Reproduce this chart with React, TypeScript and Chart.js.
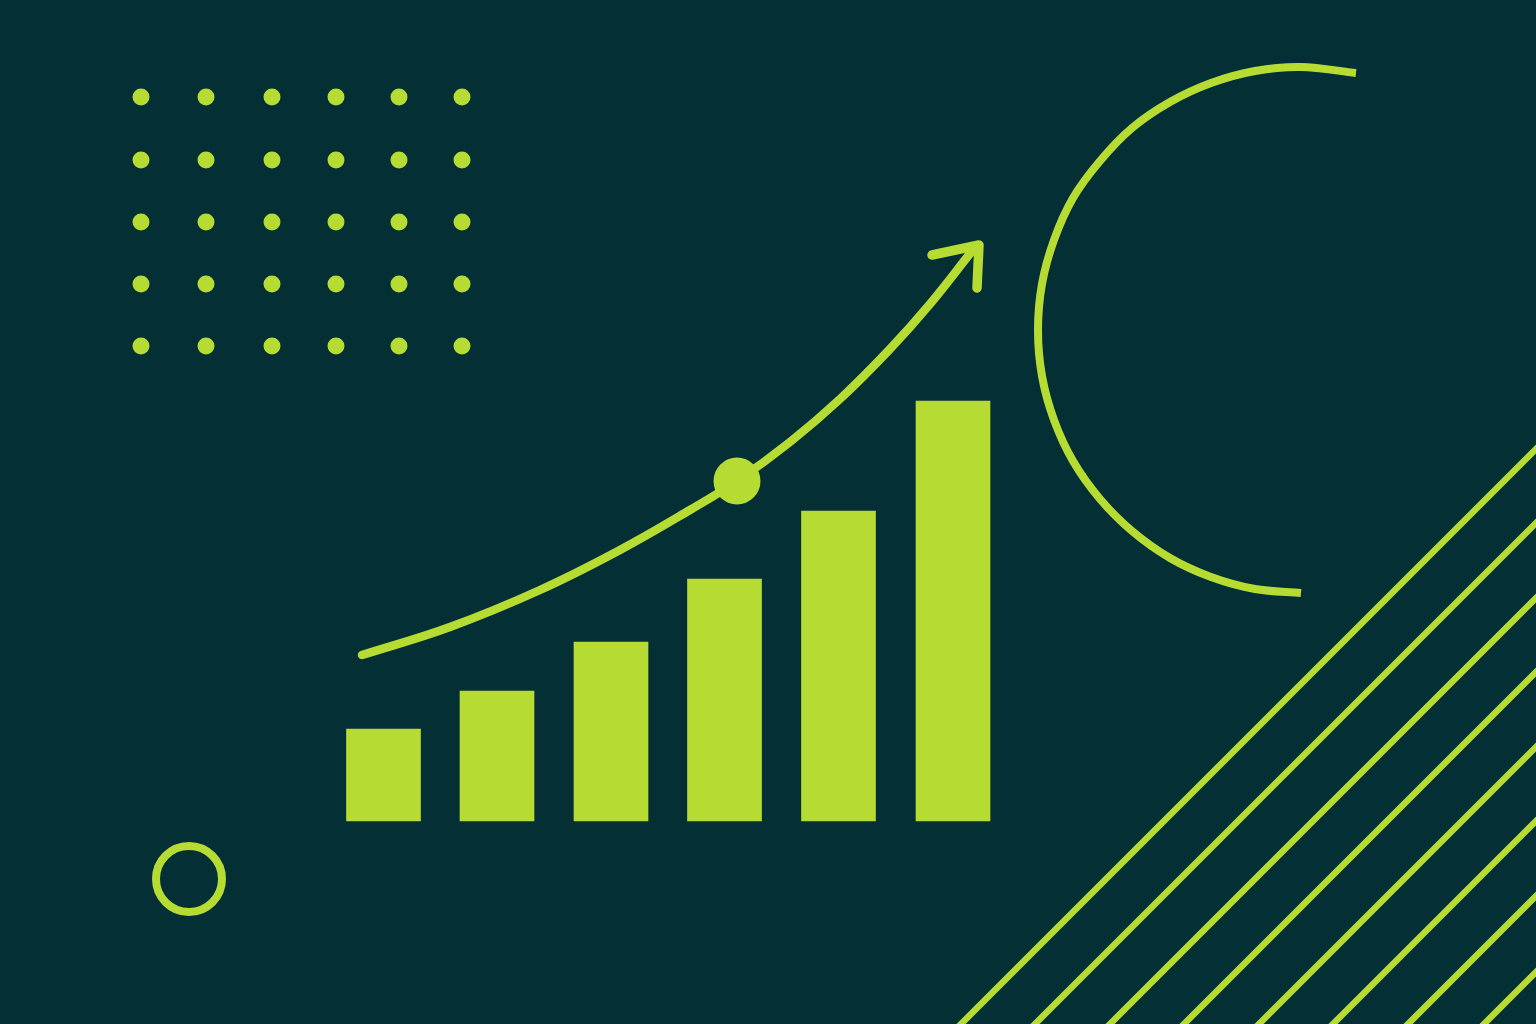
import React, { useEffect, useRef } from "react";
import { Chart, registerables } from "chart.js";

Chart.register(...registerables);

const BG = "#032f35";
const LIME = "#b6dc34";

// Growth bars (x = horizontal position on the x scale, value = bar height)
const BAR_X = [383.5, 497, 611, 724.5, 838.5, 953];
const BAR_VALUES = [92, 130, 179, 242, 310, 420];

// Trend curve
const TREND_X = [362, 450, 540, 620, 690, 737, 790, 840, 890, 930, 972];
const TREND_Y = [166, 194, 231, 271, 311, 340, 379, 422, 472, 517, 570];

// Highlighted point on the trend
const HIGHLIGHT_X = [737];
const HIGHLIGHT_Y = [340];

// Arrow head
const ARROW_X = [932, 979, 977];
const ARROW_Y = [566, 576, 533];

// Dot grid
const DOT_COLS = [141, 206, 272, 336, 399, 462];
const DOT_ROWS = [724, 661, 599, 537, 475];

// Small ring
const RING_X = [189];
const RING_Y = [-58];

// Large open arc
const ARC_X = [1356, 1301, 1255, 1211, 1170, 1132, 1100, 1073, 1054, 1042, 1038, 1042, 1054, 1073, 1100, 1132, 1170, 1211, 1255, 1301];
const ARC_Y = [748, 754, 750, 738, 719, 693, 660, 623, 581, 537, 491, 445, 401, 360, 322, 290, 263, 244, 232, 228];

// Diagonal stripes: where each meets the bottom edge (x) and the right edge (y)
const DIAG_BOTTOM_X = [961, 1035, 1110, 1184, 1259, 1333, 1408, 1484];
const DIAG_RIGHT_Y = [372, 298, 223, 149, 74, 0, -75, -151];

const X_MIN = 0;
const X_MAX = 1536;
const Y_MIN = -203;
const Y_MAX = 821;

export default function App() {
  const ref = useRef<HTMLCanvasElement | null>(null);

  useEffect(() => {
    document.body.style.margin = "0";
    document.body.style.background = BG;
    const canvas = ref.current;
    if (!canvas) return;

    const zip = (xs: number[], ys: number[]) => xs.map((x, i) => ({ x, y: ys[i] }));

    const dots: { x: number; y: number }[] = [];
    DOT_ROWS.forEach((y) => DOT_COLS.forEach((x) => dots.push({ x, y })));

    const stripes: { x: number; y: number | null }[] = [];
    DIAG_BOTTOM_X.forEach((bx, i) => {
      stripes.push({ x: bx, y: Y_MIN });
      stripes.push({ x: X_MAX, y: DIAG_RIGHT_Y[i] });
      stripes.push({ x: X_MAX, y: null });
    });

    const chart = new Chart(canvas, {
      type: "scatter",
      data: {
        datasets: [
          {
            type: "scatter",
            label: "highlight",
            data: zip(HIGHLIGHT_X, HIGHLIGHT_Y),
            pointRadius: 23.5,
            pointBackgroundColor: LIME,
            pointBorderWidth: 0,
            order: 0,
          } as any,
          {
            type: "line",
            label: "trend",
            data: zip(TREND_X, TREND_Y),
            borderColor: LIME,
            borderWidth: 8.5,
            borderCapStyle: "round",
            borderJoinStyle: "round",
            tension: 0.4,
            pointRadius: 0,
            fill: false,
            order: 1,
          },
          {
            type: "line",
            label: "arrow",
            data: zip(ARROW_X, ARROW_Y),
            borderColor: LIME,
            borderWidth: 9.5,
            borderCapStyle: "round",
            borderJoinStyle: "round",
            tension: 0,
            pointRadius: 0,
            fill: false,
            order: 1,
          },
          {
            type: "bar",
            label: "bars",
            data: zip(BAR_X, BAR_VALUES),
            backgroundColor: LIME,
            borderWidth: 0,
            barThickness: 74,
            order: 2,
          } as any,
          {
            type: "scatter",
            label: "dots",
            data: dots,
            pointRadius: 8.5,
            pointBackgroundColor: LIME,
            pointBorderWidth: 0,
            order: 3,
          } as any,
          {
            type: "scatter",
            label: "ring",
            data: zip(RING_X, RING_Y),
            pointRadius: 33,
            pointBackgroundColor: "rgba(0,0,0,0)",
            pointBorderColor: LIME,
            pointBorderWidth: 8,
            order: 3,
          } as any,
          {
            type: "line",
            label: "arc",
            data: zip(ARC_X, ARC_Y),
            borderColor: LIME,
            borderWidth: 8,
            borderCapStyle: "butt",
            tension: 0.33,
            pointRadius: 0,
            fill: false,
            order: 3,
          },
          {
            type: "line",
            label: "stripes",
            data: stripes as any,
            borderColor: LIME,
            borderWidth: 6.5,
            borderCapStyle: "square",
            tension: 0,
            spanGaps: false,
            pointRadius: 0,
            fill: false,
            order: 3,
          },
        ],
      },
      options: {
        responsive: false,
        animation: false,
        events: [],
        layout: { padding: 0, autoPadding: false },
        plugins: {
          legend: { display: false },
          tooltip: { enabled: false },
          title: { display: false },
        },
        scales: {
          x: { type: "linear", min: X_MIN, max: X_MAX, display: false, offset: false },
          y: { type: "linear", min: Y_MIN, max: Y_MAX, display: false },
        },
      },
    });

    return () => chart.destroy();
  }, []);

  return (
    <div style={{ width: 1536, height: 1024, background: BG }}>
      <canvas ref={ref} width={1536} height={1024} style={{ display: "block", width: 1536, height: 1024 }} />
    </div>
  );
}
